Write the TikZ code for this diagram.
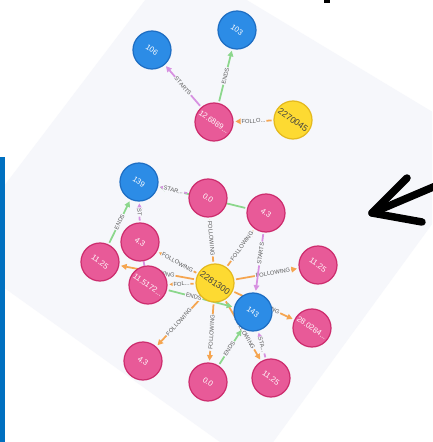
\documentclass[tikz,border=0pt]{standalone}
\usepackage{fontspec}
\setmainfont{Liberation Sans}
\usetikzlibrary{arrows.meta}

\definecolor{gridbg}{RGB}{246,247,251}
\definecolor{nodeblue}{RGB}{44,140,230}
\definecolor{blueline}{RGB}{30,110,195}
\definecolor{nodepink}{RGB}{232,90,152}
\definecolor{pinkline}{RGB}{205,45,110}
\definecolor{nodeyellow}{RGB}{253,218,50}
\definecolor{yellowline}{RGB}{228,185,30}
\definecolor{relorange}{RGB}{245,165,80}
\definecolor{relgreen}{RGB}{140,215,140}
\definecolor{relviolet}{RGB}{215,145,225}
\definecolor{barblue}{RGB}{0,112,192}

\pgfdeclarelayer{canvas}
\pgfdeclarelayer{edges}
\pgfsetlayers{canvas,edges,main}

\begin{document}
\begin{tikzpicture}[x=0.02cm, y=-0.02cm, >={Triangle[length=3.2pt,width=3.2pt]},
    every node/.style={font=\fontsize{4.4}{5}\selectfont},
    ent/.style={circle, minimum size=0.76cm, inner sep=0pt, line width=0.7pt, text=white, rotate=-35},
    movie/.style={ent, fill=nodeblue, draw=blueline},
    rating/.style={ent, fill=nodepink, draw=pinkline},
    user/.style={ent, fill=nodeyellow, draw=yellowline, text=black!75, font=\fontsize{5}{6}\selectfont},
    rel/.style={line width=1pt, ->, shorten >=1pt, shorten <=1pt},
    lbl/.style={sloped, fill=gridbg, inner sep=0.5pt, text=black!65, font=\fontsize{3.3}{4}\selectfont}]

    \useasboundingbox (0,0) rectangle (432,442);

    % Canvas
    \begin{pgfonlayer}{canvas}
    \begin{scope}
        \clip (0,0) rectangle (432,442);
        \fill[white] (0,0) rectangle (432,442);
        \fill[gridbg] (177,-42) -- (489,146) -- (255,467) -- (-46,252) -- cycle;
    \end{scope}
    \end{pgfonlayer}

    % Side bar and marks
    \fill[barblue] (0,157) rectangle (5,442);
    \fill (324,0) rectangle (330,3);
    \draw[line width=0.15cm, line cap=round, line join=round] (407,178) -- (372,213) -- (422,222);
    \draw[line width=0.15cm, line cap=round] (372,213) -- (445,182);

    % Top group
    \node[movie] at (152,50) (m106) {106};
    \node[movie] at (237,30) (m103) {103};
    \node[rating] at (214,122) (r126) {12.6889...};
    \node[user] at (293,120) (u227) {2270045};

    % Lower group
    \node[movie] at (139,182) (m139) {139};
    \node[movie] at (253,312) (m143) {143};
    \node[user] at (215,283) (u228) {2281300};
    \node[rating] at (208,198) (r00a) {0.0};
    \node[rating] at (266,213) (r43b) {4.3};
    \node[rating] at (140,242) (r43a) {4.3};
    \node[rating] at (100,262) (r112a) {11.25};
    \node[rating] at (148,285) (r115) {11.5172...};
    \node[rating] at (318,265) (r112b) {11.25};
    \node[rating] at (312,328) (r280) {28.0284...};
    \node[rating] at (143,361) (r43c) {4.3};
    \node[rating] at (208,382) (r00b) {0.0};
    \node[rating] at (271,378) (r112c) {11.25};

    \begin{pgfonlayer}{edges}
    % Top relations
    \draw[rel, relviolet] (r126) -- node[lbl] {STARTS} (m106);
    \draw[rel, relgreen] (r126) -- node[lbl] {ENDS} (m103);
    \draw[rel, relorange] (u227) -- node[lbl] {FOLLO...} (r126);

    % Relations into 139
    \draw[rel, relgreen] (r43b) -- (m139);
    \draw[rel, relviolet] (r00a) -- node[lbl] {STAR...} (m139);
    \draw[rel, relviolet] (r43a) -- node[lbl] {ST} (m139);
    \draw[rel, relgreen] (r112a) -- node[lbl] {ENDS} (m139);
    \draw[line width=1pt, relviolet] (r43a) -- (r115);

    % Following
    \draw[rel, relorange] (u228) -- node[lbl, pos=0.55] {FOLLOWING} (r00a);
    \draw[rel, relorange] (u228) -- node[lbl, pos=0.55] {FOLLOWING} (r43b);
    \draw[rel, relorange] (u228) -- node[lbl] {FOLLOWING} (r43a);
    \draw[rel, relorange] (u228) -- node[lbl] {FOLLOWING} (r112a);
    \draw[rel, relorange] (u228) -- node[lbl] {FOL...} (r115);
    \draw[rel, relorange] (u228) -- node[lbl, pos=0.6] {FOLLOWING} (r112b);
    \draw[rel, relorange] (u228) -- node[lbl] {FOLLOWING} (r280);
    \draw[rel, relorange] (u228) -- node[lbl] {FOLLOWING} (r43c);
    \draw[rel, relorange] (u228) -- node[lbl] {FOLLOWING} (r00b);
    \draw[rel, relorange] (u228) -- node[lbl, pos=0.55] {FOLLOWING} (r112c);

    % Relations into 143
    \draw[rel, relgreen] (r115) -- node[lbl, pos=0.4] {ENDS} (m143);
    \draw[rel, relviolet] (r43b) -- node[lbl, pos=0.35] {STARTS} (m143);
    \draw[rel, relgreen] (r00b) -- node[lbl, pos=0.45] {ENDS} (m143);
    \draw[rel, relviolet] (r112c) -- node[lbl] {STA...} (m143);
    \end{pgfonlayer}
\end{tikzpicture}
\end{document}
